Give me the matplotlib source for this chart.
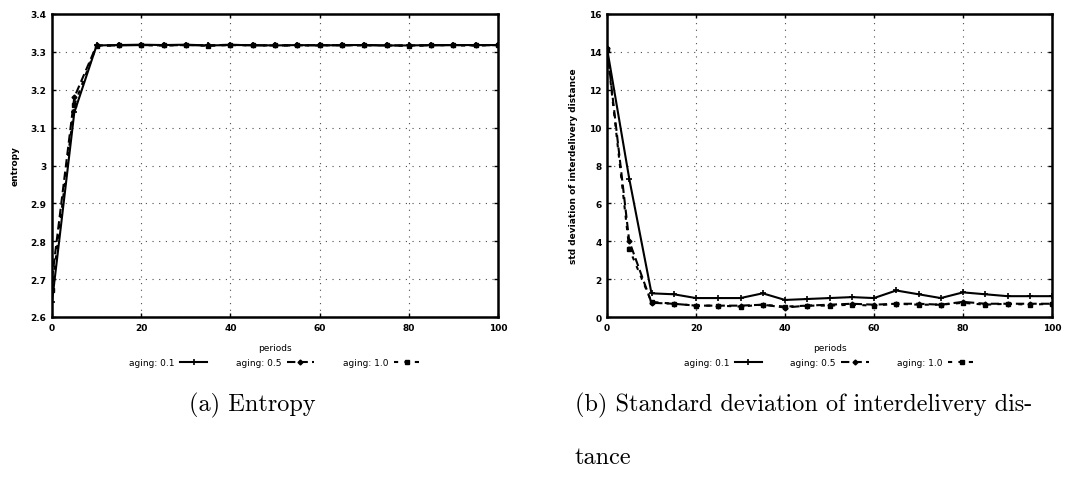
import matplotlib
matplotlib.use("Agg")
import matplotlib.pyplot as plt

# sampling periods (every 5 periods)
periods = [0, 5, 10, 15, 20, 25, 30, 35, 40, 45, 50, 55, 60, 65, 70, 75, 80, 85, 90, 95, 100]

# entropy per aging factor
entropy_01 = [2.64, 3.14, 3.317, 3.318, 3.319, 3.318, 3.319, 3.317, 3.318, 3.318, 3.317,
              3.318, 3.317, 3.318, 3.318, 3.317, 3.317, 3.318, 3.318, 3.318, 3.318]
entropy_05 = [2.70, 3.18, 3.317, 3.317, 3.318, 3.317, 3.318, 3.317, 3.319, 3.317, 3.317,
              3.317, 3.318, 3.317, 3.318, 3.317, 3.317, 3.317, 3.318, 3.317, 3.318]
entropy_10 = [2.67, 3.16, 3.316, 3.317, 3.318, 3.317, 3.318, 3.316, 3.318, 3.317, 3.317,
              3.317, 3.317, 3.318, 3.317, 3.317, 3.316, 3.317, 3.317, 3.317, 3.318]

# std deviation of interdelivery distance per aging factor
std_01 = [14.2, 7.3, 1.25, 1.2, 1.0, 1.0, 1.0, 1.25, 0.9, 0.95, 1.0,
          1.05, 1.0, 1.4, 1.2, 1.0, 1.3, 1.2, 1.1, 1.1, 1.1]
std_05 = [14.2, 4.0, 0.75, 0.7, 0.6, 0.6, 0.6, 0.65, 0.5, 0.6, 0.65,
          0.7, 0.65, 0.7, 0.7, 0.65, 0.8, 0.7, 0.7, 0.7, 0.7]
std_10 = [14.1, 3.6, 0.8, 0.7, 0.6, 0.6, 0.55, 0.65, 0.55, 0.6, 0.6,
          0.65, 0.6, 0.7, 0.65, 0.65, 0.75, 0.65, 0.7, 0.65, 0.7]

labels = ['aging: 0.1', 'aging: 0.5', 'aging: 1.0']
styles = [dict(ls='-', marker='+', ms=4, mew=1.2),
          dict(ls=(0, (4, 2)), marker='D', ms=2.5),
          dict(ls=(0, (2, 3)), marker='s', ms=2.5)]

fig = plt.figure(figsize=(10.85, 4.81), dpi=100)

def setup(ax, ylim, yticks, ylabel, yfmt):
    ax.set_xlim(0, 100)
    ax.set_ylim(*ylim)
    ax.set_xticks(range(0, 101, 20))
    ax.set_yticks(yticks)
    ax.set_yticklabels([yfmt(v) for v in yticks])
    ax.grid(True, color='0.3', linestyle=(0, (1, 5)), linewidth=0.8)
    ax.tick_params(direction='in', length=3, width=1.0, top=True, right=True,
                   labelsize=6.5, pad=4)
    for lab in ax.get_xticklabels() + ax.get_yticklabels():
        lab.set_fontweight('bold')
    for sp in ax.spines.values():
        sp.set_linewidth(1.8)
    ax.set_xlabel('periods', fontsize=6.5, labelpad=8)
    ax.set_ylabel(ylabel, fontsize=6.5, fontweight='bold', labelpad=8)

def fmt_entropy(v):
    s = '%.1f' % v
    return s[:-2] if s.endswith('.0') else s

# (a) entropy
ax1 = fig.add_axes([52 / 1085, 1 - 318 / 481, 446 / 1085, 303 / 481])
for y, lab, st in zip([entropy_01, entropy_05, entropy_10], labels, styles):
    ax1.plot(periods, y, color='black', lw=1.5, label=lab, **st)
setup(ax1, (2.6, 3.4), [2.6 + 0.1 * i for i in range(9)], 'entropy', fmt_entropy)

# (b) std deviation
ax2 = fig.add_axes([607 / 1085, 1 - 318 / 481, 445 / 1085, 303 / 481])
for y, lab, st in zip([std_01, std_05, std_10], labels, styles):
    ax2.plot(periods, y, color='black', lw=1.5, label=lab, **st)
setup(ax2, (0, 16), list(range(0, 17, 2)), 'std deviation of interdelivery distance',
      lambda v: str(int(v)))

for ax in (ax1, ax2):
    ax.legend(loc='upper center', bbox_to_anchor=(0.5, -0.125), ncol=3, frameon=False,
              markerfirst=False, fontsize=6.5, handlelength=3.0, columnspacing=3.2,
              handletextpad=0.6, borderaxespad=0)

fig.text(252 / 1085, 1 - 405 / 481, '(a) Entropy', family='cmr10', fontsize=17.5,
         ha='center', va='center')
fig.text(575 / 1085, 1 - 405 / 481, '(b) Standard deviation of interdelivery dis-',
         family='cmr10', fontsize=17.5, ha='left', va='center')
fig.text(575 / 1085, 1 - 458 / 481, 'tance', family='cmr10', fontsize=17.5,
         ha='left', va='center')

fig.savefig('out.png', dpi=100)
